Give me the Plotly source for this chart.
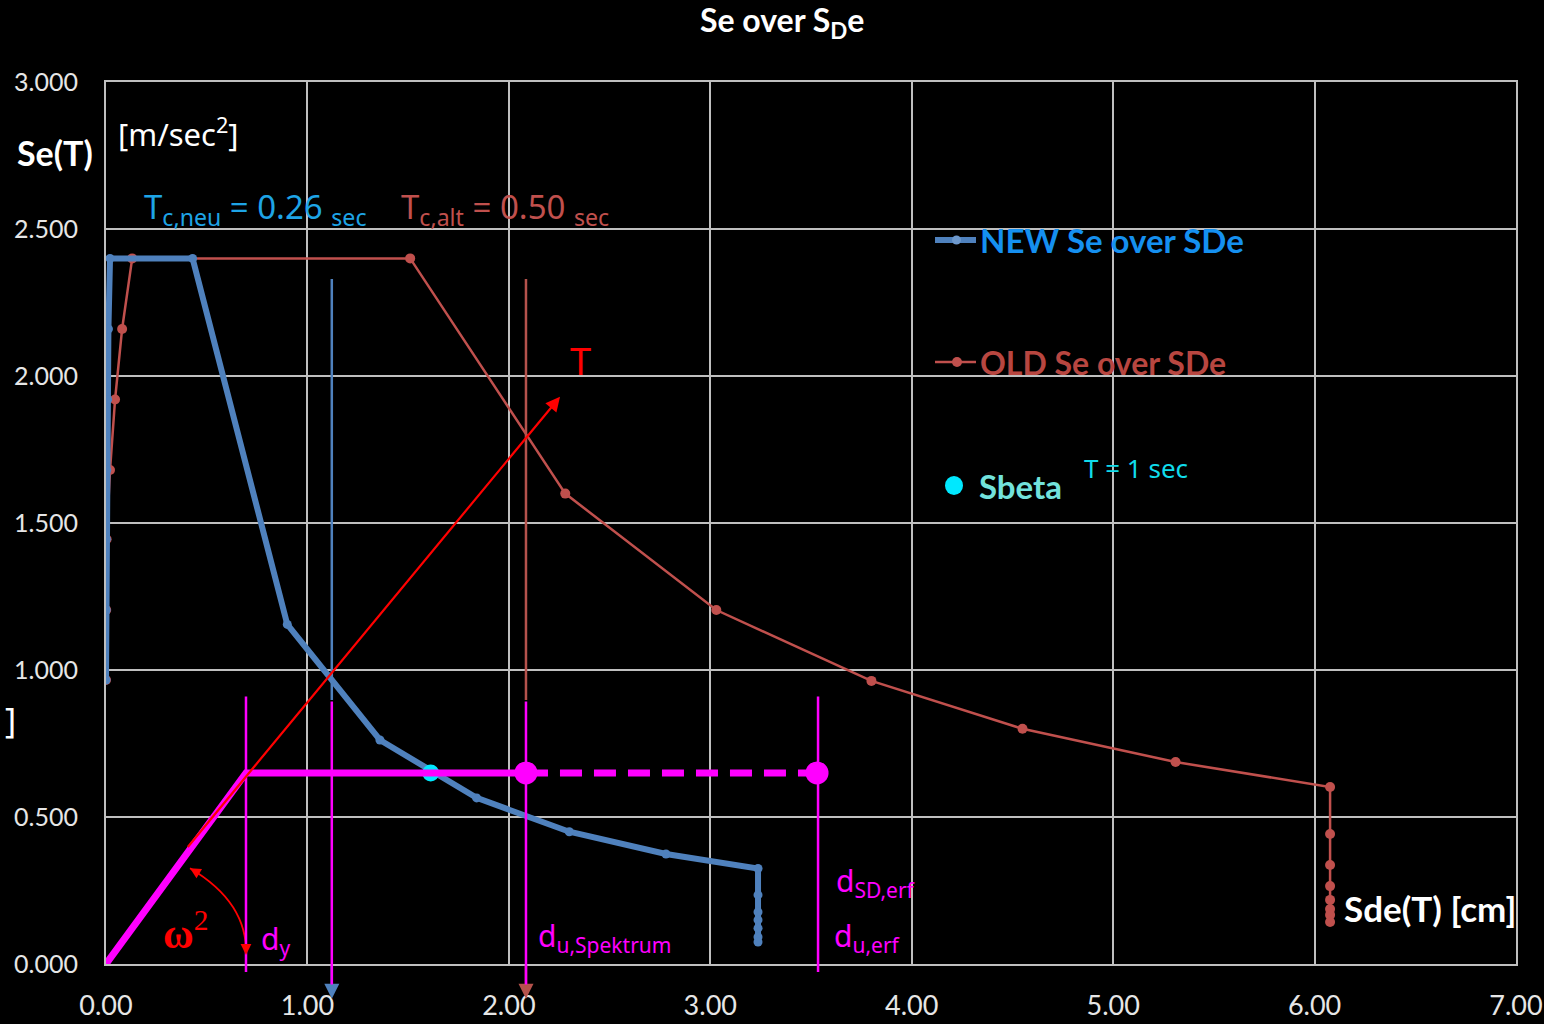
import plotly.graph_objects as go

# ---------------- data ----------------
new_sde = [0.000, 0.001, 0.002, 0.004, 0.008, 0.012, 0.020, 0.430, 0.900, 1.360, 1.840, 2.300, 2.780, 3.237,
           3.237, 3.237, 3.237, 3.237, 3.237, 3.237]
new_se = [0.966, 1.204, 1.445, 1.680, 1.920, 2.160, 2.400, 2.400, 1.155, 0.762, 0.565, 0.450, 0.374, 0.325,
          0.235, 0.177, 0.150, 0.122, 0.092, 0.075]

old_sde = [0.000, 0.001, 0.003, 0.020, 0.045, 0.080, 0.130, 1.510, 2.280, 3.030, 3.800, 4.550, 5.310, 6.077,
           6.077, 6.077, 6.077, 6.077, 6.077, 6.077, 6.077]
old_se = [0.966, 1.204, 1.445, 1.680, 1.920, 2.160, 2.400, 2.400, 1.600, 1.204, 0.963, 0.800, 0.687, 0.602,
          0.442, 0.337, 0.265, 0.218, 0.187, 0.167, 0.143]

sbeta_sde = [1.612]
sbeta_se = [0.650]

# capacity curve (bilinear)
cap_sde = [0.000, 0.695, 2.085]
cap_se = [0.000, 0.650, 0.650]
cap_ext_sde = [2.085, 3.530]
cap_ext_se = [0.650, 0.650]

# T = 1 sec line
t_line_sde = [0.40, 2.254]
t_line_se = [0.393, 1.929]

# vertical marker lines
x_tc_new = 1.121
x_tc_old = 2.085
x_dy = 0.695
x_du_erf = 3.535

x_ticks = [0, 1, 2, 3, 4, 5, 6, 7]
y_ticks = [0.0, 0.5, 1.0, 1.5, 2.0, 2.5, 3.0]

# ---------------- layout helpers ----------------
W, H = 1544, 1024
L, R, T, B = 106, 28, 82, 60
PW, PH = W - L - R, H - T - B


def px(x):
    return (x - L) / PW


def py(y):
    return (H - B - y) / PH


BLUE = "#4f81bd"
RED = "#c0504d"
BROWN = "#b5524c"
MAG = "#ff00ff"
CYAN = "#00e8ff"
FONT = "Lato"
THIN = "Noto Sans"

fig = go.Figure()

fig.add_trace(go.Scatter(x=old_sde, y=old_se, mode="lines+markers",
                         line=dict(color=RED, width=2.5), marker=dict(size=10, color=RED),
                         name="OLD Se over SDe", showlegend=False))
fig.add_trace(go.Scatter(x=new_sde, y=new_se, mode="lines+markers",
                         line=dict(color=BLUE, width=6), marker=dict(size=9, color=BLUE),
                         name="NEW Se over SDe", showlegend=False))
fig.add_trace(go.Scatter(x=sbeta_sde, y=sbeta_se, mode="markers",
                         marker=dict(size=17, color=CYAN), name="Sbeta", showlegend=False))
fig.add_trace(go.Scatter(x=cap_sde, y=cap_se, mode="lines",
                         line=dict(color=MAG, width=7), showlegend=False))
fig.add_trace(go.Scatter(x=cap_ext_sde, y=cap_ext_se, mode="lines",
                         line=dict(color=MAG, width=7, dash="22px,12px"), showlegend=False))
fig.add_trace(go.Scatter(x=cap_ext_sde, y=cap_ext_se, mode="markers",
                         marker=dict(size=23, color=MAG), showlegend=False))

shapes = []
anns = []

# vertical lines: coloured upper part, magenta lower part, coloured arrow head below axis
for xv, col in [(x_tc_new, BLUE), (x_tc_old, BROWN)]:
    top = 2.33
    shapes.append(dict(type="line", xref="x", yref="y", x0=xv, x1=xv, y0=top, y1=0.898,
                       line=dict(color=col, width=2.5)))
    anns.append(dict(x=xv, y=-0.118, ax=xv, ay=0.0, xref="x", yref="y", axref="x", ayref="y",
                     text="", showarrow=True, arrowhead=2, arrowsize=1.2, arrowwidth=2.5, arrowcolor=col))
    anns.append(dict(x=xv, y=-0.07, ax=xv, ay=0.898, xref="x", yref="y", axref="x", ayref="y",
                     text="", showarrow=True, arrowhead=0, arrowwidth=2.5, arrowcolor=MAG))

for xv in [x_dy, x_du_erf]:
    anns.append(dict(x=xv, y=-0.027, ax=xv, ay=0.915, xref="x", yref="y", axref="x", ayref="y",
                     text="", showarrow=True, arrowhead=0, arrowwidth=2.5, arrowcolor=MAG))

# T = 1 sec line with arrow
anns.append(dict(x=t_line_sde[1], y=t_line_se[1], ax=t_line_sde[0], ay=t_line_se[0],
                 xref="x", yref="y", axref="x", ayref="y", text="", showarrow=True,
                 arrowhead=2, arrowsize=1.3, arrowwidth=2.2, arrowcolor="#ff0000"))

# omega^2 arc (quadratic bezier) with arrowheads at both ends
p0 = (0.417, 0.326)
c = (0.705, 0.209)
p2 = (0.695, 0.031)
shapes.append(dict(type="path", xref="x", yref="y",
                   path=f"M {p0[0]},{p0[1]} Q {c[0]},{c[1]} {p2[0]},{p2[1]}",
                   line=dict(color="#ff0000", width=1.8)))
anns.append(dict(x=p0[0], y=p0[1], ax=10, ay=6, xref="x", yref="y", text="", showarrow=True,
                 arrowhead=2, arrowsize=1.2, arrowwidth=1.8, arrowcolor="#ff0000"))
anns.append(dict(x=p2[0], y=p2[1], ax=0, ay=-11, xref="x", yref="y", text="", showarrow=True,
                 arrowhead=2, arrowsize=1.2, arrowwidth=1.8, arrowcolor="#ff0000"))

# custom legend symbols
shapes.append(dict(type="line", xref="paper", yref="paper", x0=px(935), x1=px(976), y0=py(240), y1=py(240),
                   line=dict(color=BLUE, width=6)))
shapes.append(dict(type="circle", xref="paper", yref="paper", x0=px(952), x1=px(961), y0=py(244.5), y1=py(235.5),
                   line=dict(width=0), fillcolor="#6d98cc"))
shapes.append(dict(type="line", xref="paper", yref="paper", x0=px(935), x1=px(976), y0=py(362), y1=py(362),
                   line=dict(color=RED, width=2.5)))
shapes.append(dict(type="circle", xref="paper", yref="paper", x0=px(952), x1=px(962), y0=py(367), y1=py(357),
                   line=dict(width=0), fillcolor=RED))
shapes.append(dict(type="circle", xref="paper", yref="paper", x0=px(945), x1=px(963), y0=py(495), y1=py(476),
                   line=dict(width=0), fillcolor=CYAN))


def text(s, x, y, size, color, xanchor="center", bold=False, family=FONT):
    if bold:
        s = f"<b>{s}</b>"
    anns.append(dict(text=s, x=px(x), y=py(y), xref="paper", yref="paper", showarrow=False,
                     xanchor=xanchor, yanchor="middle", font=dict(family=family, size=size, color=color)))


text("Se over S<sub>D</sub>e", 782, 22, 32, "white", bold=True)
text("Se(T)", 55, 152, 34, "white", bold=True)
text("[m/sec<sup>2</sup>]", 116, 133, 31, "white", xanchor="left", family=THIN)
text("]", 10, 720, 34, "white", family=THIN)
text("T<sub>c,neu</sub> = 0.26 <sub>sec</sub>", 142, 208, 33, "#1ea4e6", xanchor="left", family=THIN)
text("T<sub>c,alt</sub> = 0.50 <sub>sec</sub>", 399, 208, 33, "#c0504d", xanchor="left", family=THIN)
text("NEW Se over SDe", 978, 240, 33, "#1590f0", xanchor="left", bold=True)
text("OLD Se over SDe", 978, 362, 32, "#b84640", xanchor="left", bold=True)
text("Sbeta", 977, 486, 33, "#72e2dc", xanchor="left", bold=True)
text("T = 1 sec", 1082, 468, 26, "#10dceb", xanchor="left", family=THIN)
text("T", 580, 360, 38, "#ff0000", family=THIN)
text("d<sub>SD,erf</sub>", 834, 882, 30, MAG, xanchor="left", family=THIN)
text("d<sub>u,erf</sub>", 832, 937, 30, MAG, xanchor="left", family=THIN)
text("d<sub>u,Spektrum</sub>", 536, 937, 30, MAG, xanchor="left", family=THIN)
text("d<sub>y</sub>", 259, 940, 30, MAG, xanchor="left", family=THIN)
anns.append(dict(text="<b>ω</b><sup>2</sup>", x=px(185), y=py(930), xref="paper", yref="paper",
                 showarrow=False, xanchor="center", yanchor="middle",
                 font=dict(family="Liberation Serif", size=42, color="#ff0000")))
text("Sde(T) [cm]", 1430, 908, 35, "white", bold=True)

GRID = "#bfbfbf"
fig.update_layout(
    width=W, height=H,
    margin=dict(l=L, r=R, t=T, b=B, pad=0, autoexpand=False),
    paper_bgcolor="black", plot_bgcolor="black",
    showlegend=False,
    shapes=shapes, annotations=anns,
    xaxis=dict(range=[0, 7], tickvals=x_ticks, tickformat=".2f", showgrid=True, gridcolor=GRID, gridwidth=2,
               showline=True, linecolor=GRID, linewidth=2, mirror=True, zeroline=False, ticks="",
               automargin=False,
               tickfont=dict(family=FONT, size=27, color="#e6e6e6"), ticklabelstandoff=17),
    yaxis=dict(range=[0, 3], tickvals=y_ticks, tickformat=".3f", showgrid=True, gridcolor=GRID, gridwidth=2,
               showline=True, linecolor=GRID, linewidth=2, mirror=True, zeroline=False, ticks="",
               automargin=False,
               tickfont=dict(family=FONT, size=25, color="#e6e6e6"), ticklabelstandoff=21),
)

fig.write_html("out.html")
